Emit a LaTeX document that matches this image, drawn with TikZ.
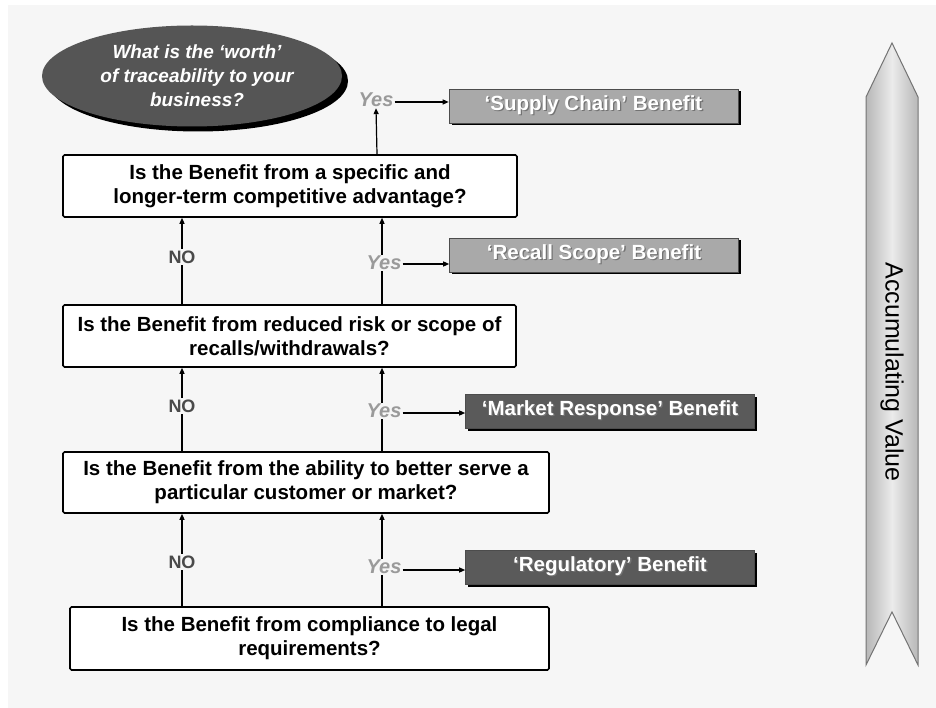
\documentclass[tikz,border=0pt]{standalone}
\usepackage{fontspec}
\setmainfont{Liberation Sans}
\usetikzlibrary{arrows.meta,shapes.geometric,shadows}
\definecolor{bg}{HTML}{F6F6F6}
\definecolor{ellfill}{HTML}{555555}
\definecolor{benlight}{HTML}{A9A9A9}
\definecolor{bendark}{HTML}{5A5A5A}
\definecolor{yesgray}{HTML}{9A9A9A}
\definecolor{nogray}{HTML}{4A4A4A}
\newcommand\shtxt[1]{\makebox[0pt][l]{\kern1.3pt\raisebox{-1.3pt}{\textcolor{black!55}{#1}}}#1}
\tikzset{
  qbox/.style={draw=black, line width=1.6pt, fill=white, rounded corners=1.5pt,
    align=center, font=\bfseries\fontsize{20.5}{24}\selectfont, inner sep=0pt},
  benbox/.style={draw=black!70, line width=0.6pt, align=center, text=white,
    font=\bfseries\fontsize{20.5}{22}\selectfont, minimum width=289pt, minimum height=34pt,
    inner sep=0pt, drop shadow={shadow xshift=2.5pt, shadow yshift=-2.5pt, fill=black, opacity=1}},
  yeslbl/.style={text=yesgray, fill=bg, font=\bfseries\itshape\fontsize{20}{20}\selectfont, inner sep=1pt},
  nolbl/.style={text=nogray, fill=bg, font=\bfseries\fontsize{18}{18}\selectfont, inner sep=2pt},
  arr/.style={line width=1.2pt, -{Triangle[length=6pt,width=5pt]}},
}
\begin{document}
\begin{tikzpicture}[x=1pt,y=-1pt]
\useasboundingbox (0,0) rectangle (936,708);
\fill[white] (0,0) rectangle (936,708);
\fill[bg] (8,5) rectangle (936,708);

% ellipse
\node[ellipse, fill=ellfill, minimum width=300pt, minimum height=101pt, inner sep=0pt,
  drop shadow={shadow xshift=6pt, shadow yshift=-5pt, fill=black, opacity=1},
  text=white, align=center, font=\bfseries\itshape\fontsize{19}{24}\selectfont] (q0) at (192,76)
  {\hspace*{10pt}What is the `worth'\\\hspace*{10pt}of traceability to your\\\hspace*{10pt}business?};

% question boxes
\node[qbox, minimum width=454pt, minimum height=62pt] (b1) at (290,186)
  {Is the Benefit from a specific and\\longer-term competitive advantage?};
\node[qbox, minimum width=453pt, minimum height=62pt] (b2) at (289.5,336)
  {Is the Benefit from reduced risk or scope of\\recalls/withdrawals?};
\node[qbox, minimum width=486pt, minimum height=61pt] (b3) at (306,482.5)
  {Is the Benefit from the ability to better serve a\\particular customer or market?};
\node[qbox, minimum width=479pt, minimum height=63pt] (b4) at (309.5,638.5)
  {Is the Benefit from compliance to legal\\requirements?};

% benefit boxes
\node[benbox, fill=benlight] (sc) at (593.5,106) {\shtxt{`Supply Chain' Benefit}};
\node[benbox, fill=benlight] (rs) at (594,255) {\shtxt{`Recall Scope' Benefit}};
\node[benbox, fill=bendark] (mr) at (610,411) {\shtxt{`Market Response' Benefit}};
\node[benbox, fill=bendark] (rg) at (610,567) {\shtxt{`Regulatory' Benefit}};

% column coordinates
\coordinate (xn) at (182,0);
\coordinate (xy) at (382,0);
\coordinate (xt) at (377,0);

% vertical connectors
\draw[arr] (xn |- b4.north) -- (xn |- b3.south);
\draw[arr] (xy |- b4.north) -- (xy |- b3.south);
\draw[arr] (xn |- b3.north) -- (xn |- b2.south);
\draw[arr] (xy |- b3.north) -- (xy |- b2.south);
\draw[arr] (xn |- b2.north) -- (xn |- b1.south);
\draw[arr] (xy |- b2.north) -- (xy |- b1.south);

% labels
\node[nolbl] (n3) at (182,562) {NO};
\node[nolbl] (n2) at (182,406) {NO};
\node[nolbl] (n1) at (182,257) {NO};
\node[yeslbl] (y3) at (384,567) {Yes};
\node[yeslbl] (y2) at (384,411) {Yes};
\node[yeslbl] (y1) at (384,263) {Yes};
\node[yeslbl] (y0) at (376,100) {Yes};

\draw[arr] (xt |- b1.north) -- (y0.south);

% horizontal arrows
\draw[arr] ([yshift=-2pt]y0.east) -- ([yshift=-2pt]y0.east -| sc.west);
\draw[arr] ([yshift=-1pt]y1.east) -- ([yshift=-1pt]y1.east -| rs.west);
\draw[arr] ([yshift=-2pt]y2.east) -- ([yshift=-2pt]y2.east -| mr.west);
\draw[arr] ([yshift=-3pt]y3.east) -- ([yshift=-3pt]y3.east -| rg.west);

% accumulating value arrow
\shade[left color=black!28, right color=black!28, middle color=black!8, draw=black!55, line width=1pt]
  (866,97) -- (892,43) -- (918,97) -- (918,665) -- (892,612) -- (866,665) -- cycle;
\node[rotate=-90, font=\fontsize{25}{25}\selectfont, text=black] (av) at (892,372) {Accumulating Value};
\end{tikzpicture}
\end{document}
